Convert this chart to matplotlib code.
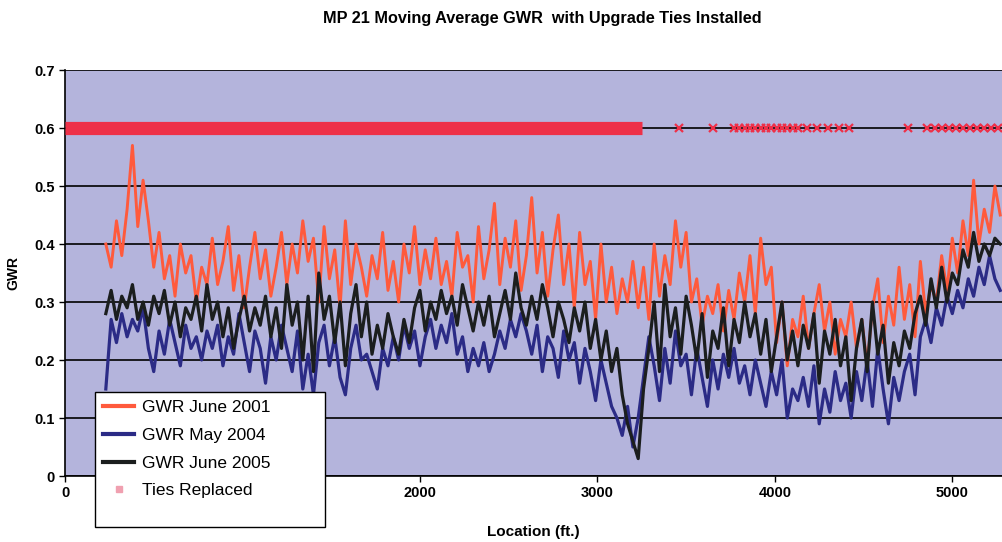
import numpy as np
import matplotlib
matplotlib.use("Agg")
import matplotlib.pyplot as plt
from matplotlib.lines import Line2D
from matplotlib.patches import Rectangle

# ---- data ----
loc_start, loc_step = 230, 30  # ft, sample spacing of the moving-average traces

gwr_2001 = [
    0.40, 0.36, 0.44, 0.38, 0.46, 0.57, 0.43, 0.51, 0.44, 0.36,
    0.42, 0.34, 0.38, 0.31, 0.40, 0.35, 0.38, 0.30, 0.36, 0.33,
    0.41, 0.33, 0.37, 0.43, 0.32, 0.38, 0.29, 0.36, 0.42, 0.34,
    0.39, 0.31, 0.36, 0.42, 0.33, 0.40, 0.35, 0.44, 0.37, 0.41,
    0.30, 0.43, 0.34, 0.39, 0.29, 0.44, 0.33, 0.40, 0.36, 0.31,
    0.38, 0.34, 0.42, 0.32, 0.37, 0.30, 0.40, 0.35, 0.43, 0.33,
    0.39, 0.34, 0.41, 0.33, 0.37, 0.31, 0.42, 0.36, 0.38, 0.30,
    0.43, 0.34, 0.39, 0.47, 0.33, 0.41, 0.36, 0.44, 0.32, 0.38,
    0.48, 0.35, 0.42, 0.31, 0.39, 0.45, 0.33, 0.40, 0.29, 0.42,
    0.33, 0.37, 0.27, 0.40, 0.30, 0.36, 0.28, 0.34, 0.30, 0.37,
    0.29, 0.36, 0.27, 0.40, 0.31, 0.38, 0.33, 0.44, 0.36, 0.42,
    0.30, 0.34, 0.26, 0.31, 0.28, 0.33, 0.25, 0.32, 0.27, 0.35,
    0.30, 0.38, 0.28, 0.41, 0.33, 0.36, 0.23, 0.30, 0.19, 0.27,
    0.24, 0.31, 0.22, 0.28, 0.33, 0.25, 0.30, 0.21, 0.27, 0.24,
    0.30, 0.22, 0.27, 0.19, 0.29, 0.34, 0.23, 0.31, 0.26, 0.36,
    0.27, 0.33, 0.24, 0.37, 0.28, 0.33, 0.30, 0.38, 0.32, 0.41,
    0.35, 0.44, 0.38, 0.51, 0.40, 0.46, 0.42, 0.50, 0.45,
]

gwr_2004 = [
    0.15, 0.27, 0.23, 0.28, 0.24, 0.27, 0.25, 0.29, 0.22, 0.18,
    0.25, 0.21, 0.27, 0.23, 0.19, 0.26, 0.22, 0.24, 0.20, 0.25,
    0.22, 0.26, 0.19, 0.24, 0.21, 0.28, 0.23, 0.18, 0.25, 0.22,
    0.16, 0.24, 0.20, 0.26, 0.22, 0.18, 0.25, 0.15, 0.21, 0.14,
    0.23, 0.26, 0.19, 0.24, 0.17, 0.14, 0.22, 0.26, 0.20, 0.21,
    0.18, 0.15, 0.22, 0.19, 0.24, 0.20, 0.26, 0.22, 0.25, 0.19,
    0.24, 0.27, 0.22, 0.26, 0.23, 0.28, 0.21, 0.24, 0.18, 0.22,
    0.19, 0.23, 0.18, 0.21, 0.25, 0.22, 0.27, 0.24, 0.28, 0.25,
    0.21, 0.26, 0.18, 0.24, 0.22, 0.17, 0.25, 0.20, 0.23, 0.16,
    0.22, 0.18, 0.13, 0.20, 0.16, 0.12, 0.10, 0.07, 0.12, 0.05,
    0.10, 0.17, 0.24, 0.19, 0.13, 0.22, 0.16, 0.25, 0.19, 0.21,
    0.14, 0.22, 0.17, 0.12, 0.20, 0.15, 0.21, 0.17, 0.22, 0.16,
    0.19, 0.14, 0.20, 0.16, 0.12, 0.18, 0.14, 0.20, 0.10, 0.15,
    0.13, 0.17, 0.12, 0.19, 0.09, 0.15, 0.11, 0.18, 0.13, 0.16,
    0.10, 0.18, 0.13, 0.20, 0.12, 0.22, 0.15, 0.09, 0.17, 0.13,
    0.18, 0.21, 0.14, 0.24, 0.27, 0.23, 0.29, 0.26, 0.31, 0.28,
    0.32, 0.29, 0.34, 0.31, 0.36, 0.33, 0.38, 0.34, 0.32,
]

gwr_2005 = [
    0.28, 0.32, 0.27, 0.31, 0.29, 0.33, 0.27, 0.30, 0.26, 0.31,
    0.28, 0.32, 0.26, 0.30, 0.24, 0.29, 0.27, 0.31, 0.25, 0.33,
    0.27, 0.30, 0.24, 0.29, 0.22, 0.27, 0.31, 0.25, 0.29, 0.26,
    0.31, 0.24, 0.29, 0.22, 0.33, 0.26, 0.30, 0.20, 0.31, 0.18,
    0.35, 0.27, 0.31, 0.23, 0.30, 0.19, 0.28, 0.33, 0.24, 0.30,
    0.21, 0.26, 0.22, 0.28, 0.24, 0.21, 0.27, 0.23, 0.29, 0.32,
    0.25, 0.30, 0.27, 0.32, 0.28, 0.31, 0.26, 0.33, 0.29, 0.25,
    0.30, 0.26, 0.31, 0.24, 0.28, 0.32, 0.27, 0.35, 0.29, 0.26,
    0.31, 0.27, 0.33, 0.29, 0.24, 0.30, 0.27, 0.23, 0.29, 0.25,
    0.30, 0.22, 0.27, 0.20, 0.25, 0.18, 0.22, 0.14, 0.09, 0.06,
    0.03, 0.15, 0.22, 0.30, 0.18, 0.33, 0.24, 0.29, 0.21, 0.31,
    0.26, 0.20, 0.28, 0.17, 0.25, 0.22, 0.29, 0.19, 0.27, 0.23,
    0.30, 0.24, 0.28, 0.21, 0.27, 0.18, 0.24, 0.30, 0.20, 0.25,
    0.19, 0.26, 0.22, 0.28, 0.16, 0.25, 0.21, 0.27, 0.19, 0.24,
    0.13, 0.22, 0.27, 0.18, 0.30, 0.21, 0.26, 0.16, 0.23, 0.19,
    0.25, 0.22, 0.28, 0.31, 0.26, 0.34, 0.29, 0.36, 0.30, 0.35,
    0.33, 0.39, 0.36, 0.42, 0.37, 0.40, 0.38, 0.41, 0.40,
]

# Ties replaced: a continuous run of replaced ties, plus individual ties
tie_level = 0.6
tie_run = (0, 3250)
tie_single = [3460, 3650, 3770, 3800, 3830, 3860, 3890, 3920, 3950, 3980,
              4010, 4040, 4070, 4100, 4130, 4180, 4240, 4300, 4360, 4420,
              4750, 4860, 4900, 4940, 4980, 5020, 5060, 5100, 5140, 5180,
              5220, 5260]

labels = ["GWR June 2001", "GWR May 2004", "GWR June 2005", "Ties Replaced"]
yticks = [0, 0.1, 0.2, 0.3, 0.4, 0.5, 0.6, 0.7]
xticks = [0, 1000, 2000, 3000, 4000, 5000]
xticklabels = ["0", "", "2000", "3000", "4000", "5000"]  # 1000 hidden by legend

# ---- styling ----
FONT = ["Liberation Sans", "DejaVu Sans"]
plt.rcParams["font.family"] = FONT

c2001 = "#ff5a3c"
c2004 = "#2b2b86"
c2005 = "#1b1e1e"
ctie = "#ee3048"

W, H = 1002, 542
fig = plt.figure(figsize=(W / 100, H / 100), dpi=100)
ax = fig.add_axes([65 / W, 1 - 476 / H, 1 - 65 / W, 406 / H])
ax.set_facecolor("#b4b4dc")

loc = loc_start + loc_step * np.arange(len(gwr_2001))

ax.set_xlim(0, 5280)
ax.set_ylim(0, 0.7)
ax.set_yticks(yticks)
ax.set_yticklabels(["0"] + [f"{v:.1f}" for v in yticks[1:]])
ax.set_xticks(xticks)
ax.set_xticklabels(xticklabels)
ax.yaxis.grid(True, color="black", linewidth=1.2)
ax.set_axisbelow(True)

for s in ["top", "right"]:
    ax.spines[s].set_visible(False)
ax.spines["left"].set_linewidth(1.2)
ax.spines["bottom"].set_linewidth(1.2)
ax.tick_params(axis="both", length=4, width=1, direction="out",
               labelsize=10.5)
for t in ax.get_xticklabels() + ax.get_yticklabels():
    t.set_fontweight("bold")

# ties
ax.hlines(tie_level, tie_run[0], tie_run[1], color=ctie, linewidth=9.5, zorder=3)
ax.plot(tie_single, [tie_level] * len(tie_single), linestyle="none",
        marker="x", markersize=6, markeredgewidth=1.6, color=ctie, zorder=3)

ax.plot(loc, gwr_2001, color=c2001, linewidth=2.1, zorder=4)
ax.plot(loc, gwr_2004, color=c2004, linewidth=2.3, zorder=4)
ax.plot(loc, gwr_2005, color=c2005, linewidth=2.3, zorder=5)

ax.set_ylabel("GWR", fontsize=10, fontweight="bold", labelpad=10)
ax.set_xlabel("Location (ft.)", fontsize=11, fontweight="bold", labelpad=18)
fig.text(542 / W, 1 - 18 / H, "MP 21 Moving Average GWR  with Upgrade Ties Installed",
         ha="center", va="center", fontsize=11.7, fontweight="bold")

# legend box (white, black border) spanning below the axis
box = Rectangle((95 / W, 1 - 527 / H), 230 / W, 135 / H, transform=fig.transFigure,
                facecolor="white", edgecolor="black", linewidth=1.0, zorder=20)
fig.add_artist(box)

handles = [
    Line2D([], [], color=c2001, linewidth=3),
    Line2D([], [], color=c2004, linewidth=3),
    Line2D([], [], color=c2005, linewidth=3),
    Line2D([], [], linestyle="none", marker="s", markersize=4,
           color="#f0a0b0"),
]
leg = fig.legend(handles, labels, loc="upper left",
                 bbox_to_anchor=(98 / W, 1 - 395 / H),
                 frameon=False, handlelength=1.8, handletextpad=0.45,
                 labelspacing=0.72, borderpad=0.3, borderaxespad=0,
                 prop={"size": 12.5})
leg.set_zorder(21)

fig.savefig("out.png", dpi=100, facecolor="white")
